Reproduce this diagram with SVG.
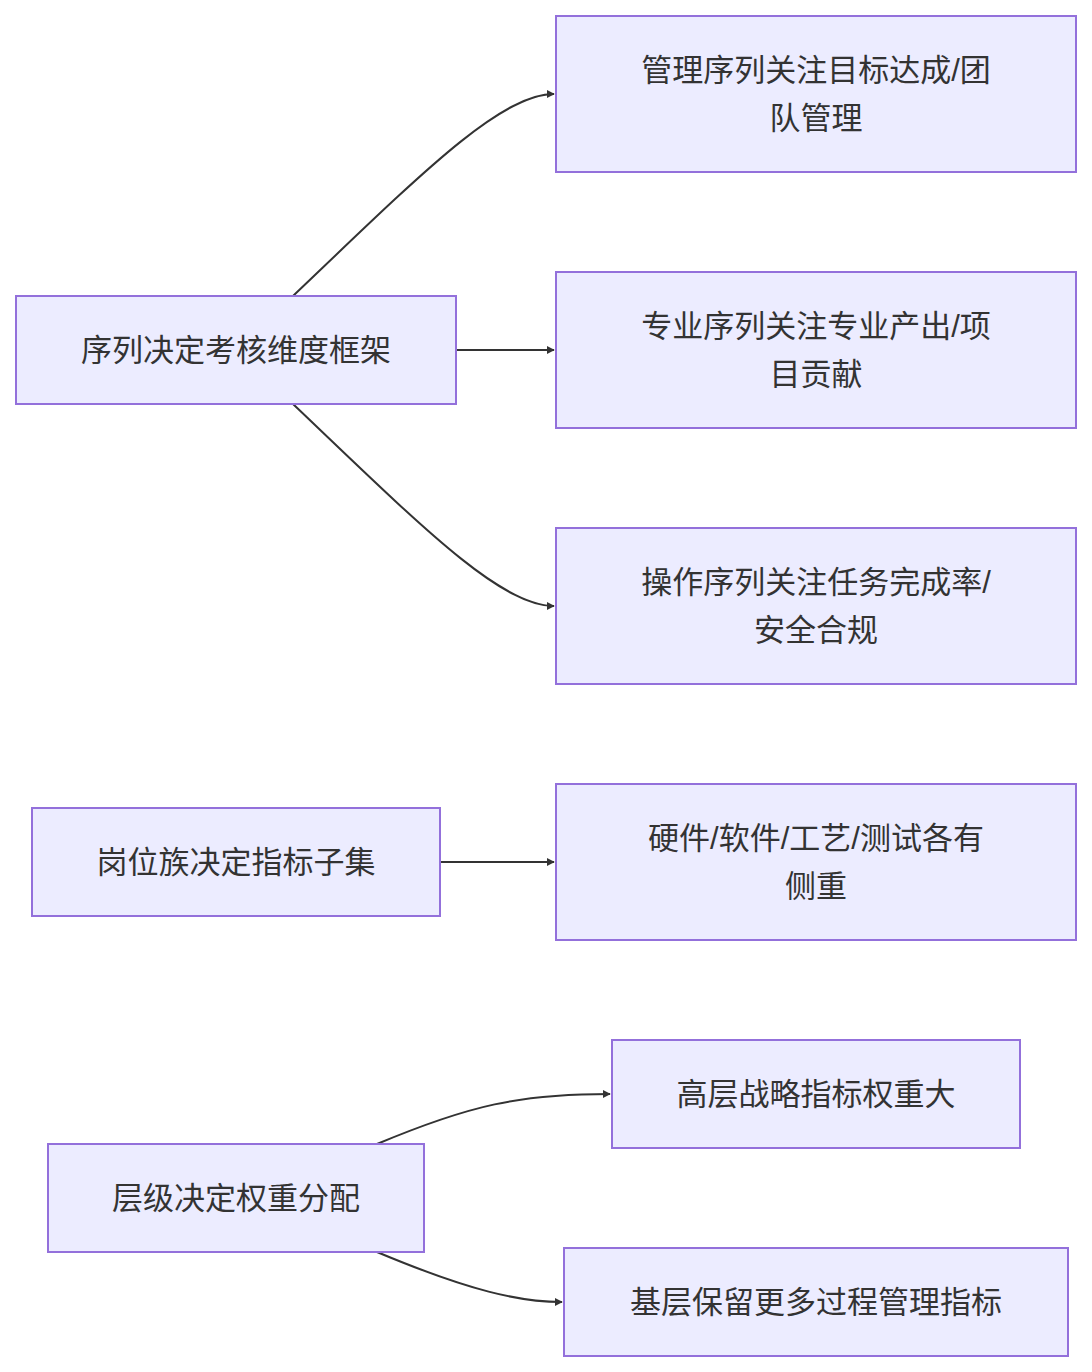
<svg xmlns="http://www.w3.org/2000/svg" width="1092" height="1372" viewBox="0 0 1092 1372">
<style>
.n rect{fill:#ECECFF;stroke:#9370DB;stroke-width:2}
.n text{font-family:"Liberation Sans","Noto Sans CJK SC",sans-serif;font-size:31px;fill:#333;text-anchor:middle;dominant-baseline:central}
.e path{fill:none;stroke:#333;stroke-width:2}
</style>
<defs><marker id="a" viewBox="0 0 10 10" refX="9" refY="5" markerWidth="8" markerHeight="8" orient="auto" markerUnits="userSpaceOnUse"><path d="M0,0L10,5L0,10z" fill="#333"/></marker></defs>
<rect width="1092" height="1372" fill="#fff"/>
<g class="e">
<path d="M293,296 C420,175 500,94 554,94" marker-end="url(#a)" style="marker-end:url(#a)"/>
<path d="M293,404 C420,525 500,606 554,606" marker-end="url(#a)"/>
<path d="M456,350 L554,350" marker-end="url(#a)"/>
<path d="M440,862 L554,862" marker-end="url(#a)"/>
<path d="M377,1144 C470,1105 520,1094 610,1094" marker-end="url(#a)"/>
<path d="M377,1252 C470,1291 520,1302 562,1302" marker-end="url(#a)"/>
</g>
<g class="n" id="A"><rect x="16" y="296" width="440" height="108"/><text x="236" y="350">序列决定考核维度框架</text></g>
<g class="n" id="B1"><rect x="556" y="16" width="520" height="156"/><text x="816" y="70">管理序列关注目标达成/团</text><text x="816" y="118">队管理</text></g>
<g class="n" id="B2"><rect x="556" y="272" width="520" height="156"/><text x="816" y="326">专业序列关注专业产出/项</text><text x="816" y="374">目贡献</text></g>
<g class="n" id="B3"><rect x="556" y="528" width="520" height="156"/><text x="816" y="582">操作序列关注任务完成率/</text><text x="816" y="630">安全合规</text></g>
<g class="n" id="C"><rect x="32" y="808" width="408" height="108"/><text x="236" y="862">岗位族决定指标子集</text></g>
<g class="n" id="C1"><rect x="556" y="784" width="520" height="156"/><text x="816" y="838">硬件/软件/工艺/测试各有</text><text x="816" y="886">侧重</text></g>
<g class="n" id="D"><rect x="48" y="1144" width="376" height="108"/><text x="236" y="1198">层级决定权重分配</text></g>
<g class="n" id="D1"><rect x="612" y="1040" width="408" height="108"/><text x="816" y="1094">高层战略指标权重大</text></g>
<g class="n" id="D2"><rect x="564" y="1248" width="504" height="108"/><text x="816" y="1302">基层保留更多过程管理指标</text></g>
</svg>
